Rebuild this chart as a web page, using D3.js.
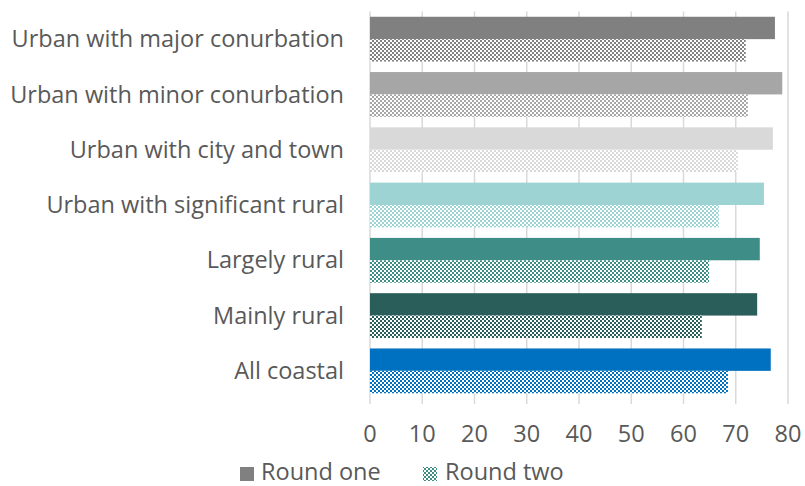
<!DOCTYPE html>
<html><head><meta charset="utf-8">
<script src="https://cdn.jsdelivr.net/npm/d3@7"></script>
<style>body{margin:0;background:#fff}svg{display:block}text{font-family:"Open Sans",sans-serif;fill:#595959}</style>
</head><body><svg id="c" width="805" height="486"></svg>
<script>
const categories = ["Urban with major conurbation","Urban with minor conurbation","Urban with city and town","Urban with significant rural","Largely rural","Mainly rural","All coastal"];
const roundOne = [77.5, 78.9, 77.1, 75.4, 74.6, 74.1, 76.7];
const roundTwo = [71.9, 72.3, 70.4, 66.8, 64.9, 63.5, 68.5];
const colors = ["#808080","#a6a6a6","#d9d9d9","#9dd4d3","#3e8e87","#2a5e5b","#0070c0"];
const series = ["Round one","Round two"];
const xTicks = [0,10,20,30,40,50,60,70,80];

const FS = "23.5px";
const svg = d3.select("#c");
const defs = svg.append("defs");
function makePattern(id, c){
  const p = defs.append("pattern").attr("id",id).attr("width",4).attr("height",4).attr("patternUnits","userSpaceOnUse");
  p.append("rect").attr("width",4).attr("height",4).attr("fill","#fff");
  p.append("rect").attr("width",2).attr("height",2).attr("fill",c);
  p.append("rect").attr("x",2).attr("y",2).attr("width",2).attr("height",2).attr("fill",c);
}
colors.forEach((c,i)=>makePattern("pat"+i,c));
makePattern("patLeg","#3e8e87");

const x = d3.scaleLinear().domain([0,80]).range([370,788]);
const y = d3.scaleBand().domain(categories).range([11.5,398.5]).paddingInner(0.19).paddingOuter(0.095);
const ys = d3.scaleBand().domain(series).range([0,y.bandwidth()]);

// gridlines
svg.append("g").selectAll("line").data(xTicks).join("line")
  .attr("x1",d=>x(d)).attr("x2",d=>x(d)).attr("y1",11.5).attr("y2",398.5)
  .attr("stroke","#d9d9d9").attr("stroke-width",1.5);
// axis tick marks
svg.append("g").selectAll("line").data(xTicks).join("line")
  .attr("x1",d=>x(d)).attr("x2",d=>x(d)).attr("y1",398.5).attr("y2",404)
  .attr("stroke","#d9d9d9").attr("stroke-width",1.5);

const g = svg.append("g");
categories.forEach((c,i)=>{
  g.append("rect").attr("x",x(0)).attr("y",y(c)+ys("Round one")).attr("width",x(roundOne[i])-x(0)).attr("height",ys.bandwidth()).attr("fill",colors[i]);
  g.append("rect").attr("x",x(0)).attr("y",y(c)+ys("Round two")).attr("width",x(roundTwo[i])-x(0)).attr("height",ys.bandwidth()).attr("fill","url(#pat"+i+")");
});

// category labels
svg.append("g").selectAll("text").data(categories).join("text")
  .attr("x",344).attr("y",d=>y(d)+y.bandwidth()/2+8.2).attr("text-anchor","end")
  .style("font-size",FS).text(d=>d);

// x tick labels
svg.append("g").selectAll("text").data(xTicks).join("text")
  .attr("x",d=>x(d)).attr("y",441.5).attr("text-anchor","middle")
  .style("font-size",FS).text(d=>d);

// legend
const leg = svg.append("g");
leg.append("rect").attr("x",240).attr("y",467).attr("width",14).attr("height",14).attr("fill","#808080");
leg.append("text").attr("x",261).attr("y",480).style("font-size",FS).text(series[0]);
leg.append("rect").attr("x",423).attr("y",467).attr("width",14).attr("height",14).attr("fill","url(#patLeg)");
leg.append("text").attr("x",445).attr("y",480).style("font-size",FS).text(series[1]);
</script></body></html>
